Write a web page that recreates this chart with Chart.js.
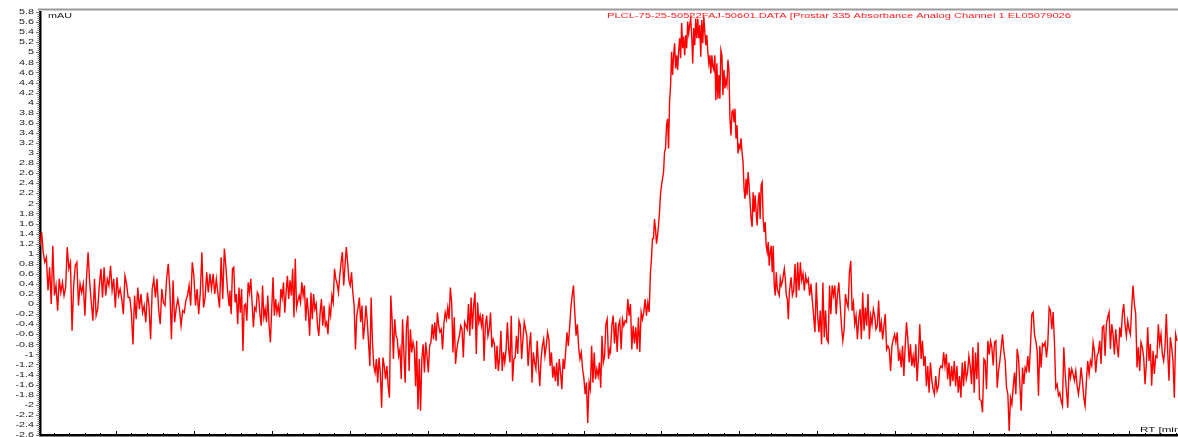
<!DOCTYPE html>
<html>
<head>
<meta charset="utf-8">
<script src="https://cdn.jsdelivr.net/npm/chart.js@4.4.1/dist/chart.umd.min.js"></script>
<style>
  html, body { margin: 0; padding: 0; background: #fff; }
  #wrap { width: 1178px; height: 437px; position: relative; }
</style>
</head>
<body>
<div id="wrap"><canvas id="chromatogram"></canvas></div>
<script>
// trace, stretch by stretch (RT window in min, absorbance in mAU)
var seg1Rt = [0.026, 2.453];
var seg1 = [1.16, 1.43, 1.03, 0.83, 0.93, 0.27, 0.73, 0.00, 1.16, 0.17, 0.37, -0.13, 0.50, 0.23, 0.43, 0.17, 0.33, 1.13, 0.70, 0.83,
  -0.53, 0.37, 0.76, 0.83, -0.03, 0.40, 0.23, 0.40, -0.23, 0.50, 1.03, 0.43, 0.03, -0.33, 0.50, -0.23, -0.10, 0.37, 0.70, 0.13,
  0.73, 0.17, 0.50, 0.37, 0.76, 0.27, 0.50, -0.07, 0.53, 0.17, 0.30, 0.10, -0.20, 0.56, 0.40, 0.13, 0.13, -0.17, -0.80, 0.17,
  -0.30, 0.33, -0.10, 0.20, -0.17, -0.03, -0.36, 0.23, -0.03, -0.70, 0.30, 0.50, 0.13, 0.50, -0.10, -0.40, 0.30, 0.03, -0.03, 0.50,
  0.80, 0.30, -0.70, 0.47, -0.36, -0.07, 0.10, -0.10, -0.43, -0.13, -0.17, 0.07, 0.17, 0.37, -0.03, 0.83, 0.56, -0.03, 0.30, -0.20,
  0.23, 1.03, -0.07, 0.13, 0.63, 0.23, 0.60, 0.30, 0.60, 0.20, 0.50, 0.20, -0.07, 0.93, 0.10, 1.10, 0.73, 0.27, -0.03];

var seg2Rt = [2.462, 4.846];
var seg2 = [0.27, -0.20, 0.70, 0.73, 0.03, 0.20, -0.40, 0.33, -0.17, 0.30, -0.93, -0.03, 0.00, -0.33, 0.43, 0.23, 0.50, 0.03, -0.46, -0.07,
  -0.13, 0.23, 0.17, -0.20, -0.43, 0.37, -0.26, -0.10, -0.36, 0.17, -0.43, -0.76, -0.10, 0.53, -0.23, 0.10, -0.17, -0.03, -0.26, 0.30,
  0.13, 0.43, -0.17, 0.23, 0.56, 0.10, 0.47, 0.17, 0.70, -0.26, 0.90, -0.07, 0.07, 0.17, 0.03, 0.43, 0.17, 0.37, -0.33, 0.13,
  -0.17, -0.63, 0.23, -0.30, 0.20, -0.10, 0.00, -0.43, -0.63, -0.17, 0.10, -0.43, -0.03, -0.43, -0.36, -0.60, -0.07, -0.23, 0.17, 0.03,
  0.70, 0.50, 0.40, 0.23, 0.56, 0.83, 1.03, 0.37, 0.76, 1.13, 0.83, 0.47, 0.37, 0.63, 0.23, -0.03, -0.90, -0.23, -0.07, 0.13,
  -0.36, -0.03, -0.70, -0.43, -0.03, -0.33, -0.76, -1.23, 0.13, -0.76, -1.23, -1.36, -1.09, -1.56, -1.06, -1.36, -2.06, -1.06, -1.23, -1.49,
  -1.23, -1.63, -1.86, 0.17, -0.30, -1.09, -0.30, -0.63, -0.70, -1.03, -0.90, -1.49, -0.30, -0.96, -1.56, -0.43, -0.23, -1.33, -0.50, -0.96,
  -0.76, -0.90, -1.63];

var seg3Rt = [4.859, 7.337];
var seg3 = [-0.73, -2.09, -1.09, -2.12, -1.09, -0.80, -1.36, -0.76, -1.03, -1.36, -0.83, -0.76, -0.40, -0.70, -0.36, -0.73, -0.17, -0.43, -0.56, -0.50,
  -0.90, -0.40, -0.17, -0.30, -0.07, -0.30, 0.33, 0.03, -0.96, -0.26, -1.19, -0.90, -0.73, -0.63, -0.43, -0.50, -1.06, -0.36, -0.43, -0.50,
  0.00, -0.63, 0.13, -0.50, -0.03, 0.23, -0.99, 0.03, -0.36, -0.23, -0.43, -0.20, -1.13, -0.43, -0.23, -0.63, -0.50, -0.17, -0.86, -0.70,
  -0.80, -1.29, -0.83, -1.33, -1.06, -0.53, -1.33, -0.96, -1.16, -0.90, -0.36, -0.90, -1.16, -0.23, -1.53, -1.09, -1.06, -0.63, -0.99, -0.33,
  -0.43, -1.09, -0.70, -0.36, -0.50, -0.63, -1.23, -0.83, -0.56, -1.56, -0.96, -1.16, -1.29, -0.73, -1.23, -1.63, -1.09, -0.83, -0.70, -1.03,
  -0.83, -0.56, -0.70, -1.23, -0.96, -1.46, -1.23, -1.53, -1.16, -1.63, -1.09, -1.36, -1.69, -1.09, -1.29, -0.93, -0.56, -0.83, -0.46, -0.07,
  0.17, 0.37, -0.17, -0.63, -0.40, -0.86, -1.09, -0.96, -1.29, -1.46, -1.79, -1.56, -2.36, -1.56, -1.69, -0.83, -1.56, -0.96, -1.49, -1.29,
  -1.43, -1.16, -1.66, -0.63, -1.16, -1.03, -0.40, -0.30, -1.09, -0.90];

var seg4Rt = [7.346, 7.842];
var seg4 = [-0.95, -0.43, -0.23, -0.78, -0.36, -0.95, -0.43, -0.33, -0.90, -0.30, -0.43, -0.33, -0.36, 0.10, -0.23, 0.00, -0.90, -0.43, -0.78, -0.46,
  -0.90, -0.26, -0.95, -0.16, -0.30, -0.16, 0.10, -0.23, 0.03, -0.16];

var seg5Rt = [7.859, 9.641];
var seg5 = [0.63, 0.90, 1.30, 1.30, 1.69, 1.49, 1.20, 1.36, 1.56, 1.83, 2.19, 2.36, 2.49, 2.62, 3.02, 3.09, 3.55, 3.68, 3.09, 4.02,
  4.35, 5.01, 4.55, 4.94, 5.18, 4.68, 4.94, 4.65, 5.01, 5.28, 4.88, 5.58, 5.08, 5.31, 4.94, 5.34, 5.08, 5.61, 5.38, 5.54,
  5.67, 5.34, 4.78, 5.48, 5.14, 5.67, 5.28, 5.67, 5.28, 5.54, 4.91, 5.64, 5.18, 5.71, 5.41, 5.14, 5.34, 5.01, 4.78, 4.94,
  4.58, 4.94, 4.71, 4.65, 4.94, 4.05, 4.78, 4.08, 4.55, 4.08, 5.04, 4.94, 4.15, 4.65, 4.28, 4.45, 4.35, 4.85, 4.65, 3.68,
  3.35, 3.82, 3.85, 3.61, 3.88, 3.29, 3.55, 2.99, 3.15, 3.09, 3.29, 3.02, 2.82, 2.29, 2.09, 2.49, 2.16, 2.62, 2.36, 2.02,
  1.69, 1.53, 2.22, 1.83, 2.16, 1.83, 1.56, 2.02, 2.22, 1.69, 2.36, 2.42, 1.69, 1.43, 1.63, 1.16, 1.03, 1.23, 0.76, 1.03,
  1.16, 0.63, 1.16, 0.37, 0.17, 0.63, 0.30, 0.23, 0.17, 0.50, 0.37, 0.43, 0.57, 0.70, 0.50, 0.17, 0.10, -0.30, 0.23];

var seg6Rt = [9.663, 12.081];
var seg6 = [0.53, 0.17, 0.27, 0.80, 0.13, 0.83, 0.27, 0.83, 0.47, 0.60, 0.27, 0.56, 0.43, 0.50, 0.17, 0.40, 0.07, -0.23, -0.56, 0.43,
  -0.23, -0.56, -0.13, -0.80, 0.43, -0.66, -0.13, -0.70, -0.76, 0.37, -0.20, 0.37, 0.17, 0.37, -0.20, 0.20, 0.43, 0.00, -0.43, -0.73,
  -0.50, 0.20, 0.03, -0.07, 0.63, 0.86, -0.13, 0.03, -0.40, -0.23, -0.70, -0.30, -0.10, -0.70, 0.23, -0.53, -0.07, -0.43, 0.20, -0.70,
  -0.23, -0.40, -0.10, -0.23, -0.50, -0.43, 0.07, -0.56, -0.36, -0.70, -0.43, -0.20, -0.90, -0.83, -0.90, -1.33, -0.83, -0.70, -0.60, -0.76,
  -0.56, -1.13, -0.96, -1.26, -0.83, -1.43, -0.83, -0.36, -0.70, -1.16, -0.80, -1.23, -1.03, -1.26, -0.80, -1.53, -1.06, -0.40, -1.09, -0.73,
  -1.23, -1.03, -1.63, -1.23, -1.76, -1.16, -1.49, -1.69, -1.79, -1.43, -1.72, -1.63, -1.29, -1.23, -1.26, -0.96, -1.23, -0.99, -1.49, -1.16,
  -1.63, -1.23, -1.53, -1.13, -1.63, -1.23, -1.76, -1.43, -1.86, -1.16, -1.63, -1.13, -1.49, -1.36, -1.03, -1.23, -1.59, -0.86, -1.76, -0.96,
  -1.49, -0.76, -1.89];

var seg7Rt = [12.103, 14.615];
var seg7 = [-1.92, -2.15, -1.09, -1.13, -1.69, -0.73, -1.00, -0.73, -0.86, -1.22, -0.76, -0.73, -1.66, -1.33, -1.13, -0.86, -0.60, -0.93, -1.13, -1.66,
  -1.79, -2.52, -1.86, -1.99, -1.66, -1.36, -1.79, -0.89, -1.06, -1.59, -2.12, -1.26, -1.59, -1.26, -1.33, -1.03, -1.36, -0.83, -0.20, -0.16,
  -0.60, -0.73, -0.93, -1.82, -0.83, -1.26, -0.79, -0.83, -0.76, -1.06, -0.79, -0.07, -0.13, -0.50, -0.16, -0.76, -1.66, -1.59, -1.82, -1.76,
  -1.92, -2.02, -0.86, -1.36, -1.72, -2.06, -1.26, -1.46, -1.29, -1.39, -1.52, -1.33, -1.62, -1.79, -1.59, -1.26, -1.52, -1.86, -2.02, -1.52,
  -1.13, -1.39, -1.13, -1.22, -0.76, -0.93, -1.36, -1.03, -0.96, -0.73, -1.19, -0.46, -0.43, -1.03, -0.40, -0.26, -0.16, -0.89, -0.40, -0.60,
  -1.00, -0.50, -0.83, -1.06, -0.46, -0.66, -0.20, 0.00, -0.40, -0.63, -0.33, -0.50, -0.60, -0.07, 0.37, 0.00, -0.20, -1.26, -0.86, -1.33,
  -0.76, -0.86, -1.06, -1.59, -1.19, -0.46, -1.13, -0.79, -1.62, -0.93, -1.39, -1.03, -1.06, -0.40, -0.79, -0.60, -1.00, -1.13, -0.86, -0.20,
  -0.93, -1.52, -0.66, -0.86, -1.13, -1.86, -0.60, -0.73];

// axis ranges and tick steps
var rtRange = [0.026, 14.628];
var mauRange = [-2.6, 5.8];
var mauLabelStep = 0.2;
var mauMinorStep = 0.04;
var rtMinorStep = 0.2;
var rtMajorEvery = 5;

var fileLabel = 'PLCL-75-25-50522FAJ-50601.DATA [Prostar 335 Absorbance Analog Channel 1 EL05079026';

function spread(rt, vals) {
  return vals.map(function (v, i) {
    return { x: rt[0] + (rt[1] - rt[0]) * i / (vals.length - 1), y: v };
  });
}

var points = [].concat(
  spread(seg1Rt, seg1), spread(seg2Rt, seg2), spread(seg3Rt, seg3), spread(seg4Rt, seg4),
  spread(seg5Rt, seg5), spread(seg6Rt, seg6), spread(seg7Rt, seg7)
);

function stretchText(ctx, text, x, y, sx, align) {
  ctx.save();
  ctx.translate(x, y);
  ctx.scale(sx, 1);
  ctx.textAlign = align;
  ctx.fillText(text, 0, 0);
  ctx.restore();
}

var decor = {
  id: 'decor',
  afterDraw: function (chart) {
    var ctx = chart.ctx, a = chart.chartArea, xs = chart.scales.x, ys = chart.scales.y;
    ctx.save();

    // grey frame line on top
    ctx.strokeStyle = '#9a9a9a';
    ctx.lineWidth = 2;
    ctx.beginPath();
    ctx.moveTo(a.left - 2, a.top - 2.5);
    ctx.lineTo(a.right, a.top - 2.5);
    ctx.stroke();

    // RT ticks pointing up from the base line
    ctx.strokeStyle = '#000';
    ctx.lineWidth = 1;
    for (var k = Math.ceil(xs.min / rtMinorStep); k * rtMinorStep <= xs.max; k++) {
      var px = Math.round(xs.getPixelForValue(k * rtMinorStep)) + 0.5;
      var len = k % rtMajorEvery === 0 ? 4 : 2;
      ctx.beginPath();
      ctx.moveTo(px, a.bottom);
      ctx.lineTo(px, a.bottom - len);
      ctx.stroke();
    }

    // mAU ticks and labels
    var nMinor = Math.round((ys.max - ys.min) / mauMinorStep);
    ctx.strokeStyle = '#777';
    for (var j = 0; j <= nMinor; j++) {
      var v = ys.min + j * mauMinorStep;
      var py = Math.round(ys.getPixelForValue(v)) + 0.5;
      var major = j % Math.round(mauLabelStep / mauMinorStep) === 0;
      ctx.beginPath();
      ctx.moveTo(a.left - (major ? 4 : 2.5), py);
      ctx.lineTo(a.left, py);
      ctx.stroke();
    }
    ctx.fillStyle = '#1a1a1a';
    ctx.font = '8px "Liberation Sans", Arial, sans-serif';
    ctx.textBaseline = 'middle';
    var nLab = Math.round((ys.max - ys.min) / mauLabelStep);
    for (var i = 0; i <= nLab; i++) {
      var val = Math.round((ys.min + i * mauLabelStep) * 10) / 10;
      if (val === 0) val = 0;
      stretchText(ctx, String(val), a.left - 6, ys.getPixelForValue(val), 1.35, 'right');
    }

    // unit, file name and RT caption
    ctx.fillStyle = '#111';
    stretchText(ctx, 'mAU', a.left + 8, a.top + 4, 1.35, 'left');
    ctx.fillStyle = '#ff2020';
    var w = ctx.measureText(fileLabel).width;
    stretchText(ctx, fileLabel, 607, a.top + 3.5, 464 / w, 'left');
    ctx.fillStyle = '#111';
    ctx.textBaseline = 'alphabetic';
    stretchText(ctx, 'RT [min]', 1140, a.bottom - 3, 1.45, 'left');

    ctx.restore();
  }
};

window.addEventListener('load', function () {
  var ctx = document.getElementById('chromatogram').getContext('2d');
  new Chart(ctx, {
    type: 'line',
    data: {
      datasets: [{
        label: 'Prostar 335 Absorbance',
        data: points,
        borderColor: '#ff0000',
        borderWidth: 1.4,
        pointRadius: 0,
        tension: 0,
        fill: false
      }]
    },
    options: {
      responsive: true,
      maintainAspectRatio: false,
      animation: false,
      parsing: false,
      layout: { padding: { top: 12, right: 0, bottom: 0, left: 0 } },
      plugins: { legend: { display: false }, tooltip: { enabled: false } },
      scales: {
        x: {
          type: 'linear',
          min: rtRange[0],
          max: rtRange[1],
          grid: { display: false },
          ticks: { display: false },
          border: { display: true, color: '#000', width: 2.5 },
          afterFit: function (s) { s.height = 2; }
        },
        y: {
          min: mauRange[0],
          max: mauRange[1],
          grid: { display: false },
          ticks: { display: false },
          border: { display: true, color: '#000', width: 2.5 },
          afterFit: function (s) { s.width = 40; }
        }
      }
    },
    plugins: [decor]
  });
});
</script>
</body>
</html>
